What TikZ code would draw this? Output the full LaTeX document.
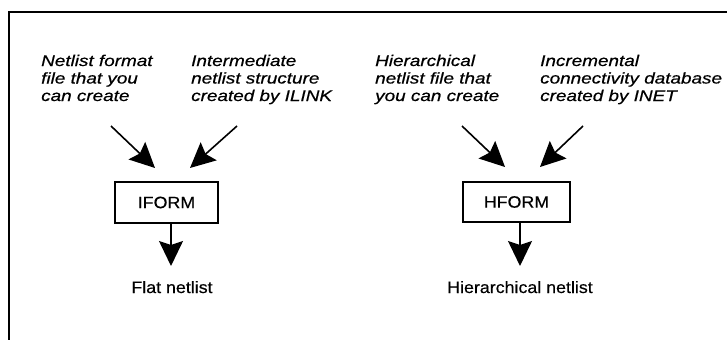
\documentclass[tikz,border=0pt]{standalone}
\usepackage{fontspec}
\setmainfont{Liberation Sans}
\newfontfamily\itfam[FakeStretch=1.22,FakeBold=0.6]{Liberation Sans}
\newfontfamily\upfam[FakeStretch=1.08,FakeBold=0.4]{Liberation Sans}
\usetikzlibrary{arrows.meta}
\tikzset{
  intext/.style={inner sep=0pt, anchor=base west, align=left,
    font=\itfam\itshape\fontsize{15.5}{17.5}\selectfont},
  outtext/.style={inner sep=0pt, anchor=base, font=\upfam\fontsize{16.5}{19}\selectfont},
  procbox/.style={draw, line width=1.1pt, inner sep=0pt, font=\upfam\fontsize{16.5}{19}\selectfont},
  bigarrow/.style={line width=1.6pt, -{Stealth[length=25pt,width=24pt,inset=4pt]}},
}
\begin{document}
\begin{tikzpicture}[x=1pt,y=-1pt]
\useasboundingbox (0,0) rectangle (727,340);
% frame
\draw[line width=1.8pt] (727,12) -- (9,12) -- (9,340);
% left group (anchor = baseline of last line)
\node[intext] (t1) at (41,101) {Netlist format\\file that you\\can create};
\node[intext] (t2) at (191,101) {Intermediate\\netlist structure\\created by ILINK};
\node[procbox, minimum width=103pt, minimum height=41pt] (iform) at (166.5,202.5) {IFORM};
\coordinate (a1s) at (111,126);
\coordinate (a1e) at (155,168);
\coordinate (a2s) at (237,126);
\coordinate (a2e) at (190,168);
\coordinate (itip) at (171,266);
\draw[bigarrow] (a1s) -- (a1e);
\draw[bigarrow] (a2s) -- (a2e);
\draw[bigarrow] (iform.south -| itip) -- (itip);
\node[outtext] (flat) at (172,293) {Flat netlist};
% right group
\node[intext] (t3) at (375,101) {Hierarchical\\netlist file that\\you can create};
\node[intext] (t4) at (540,101) {Incremental\\connectivity database\\created by INET};
\node[procbox, minimum width=107pt, minimum height=40pt] (hform) at (516.5,202) {HFORM};
\coordinate (b1s) at (462,126);
\coordinate (b1e) at (505,167);
\coordinate (b2s) at (583,126);
\coordinate (b2e) at (540,167);
\coordinate (htip) at (520,266);
\draw[bigarrow] (b1s) -- (b1e);
\draw[bigarrow] (b2s) -- (b2e);
\draw[bigarrow] (hform.south -| htip) -- (htip);
\node[outtext] (hier) at (520,293) {Hierarchical netlist};
\end{tikzpicture}
\end{document}
